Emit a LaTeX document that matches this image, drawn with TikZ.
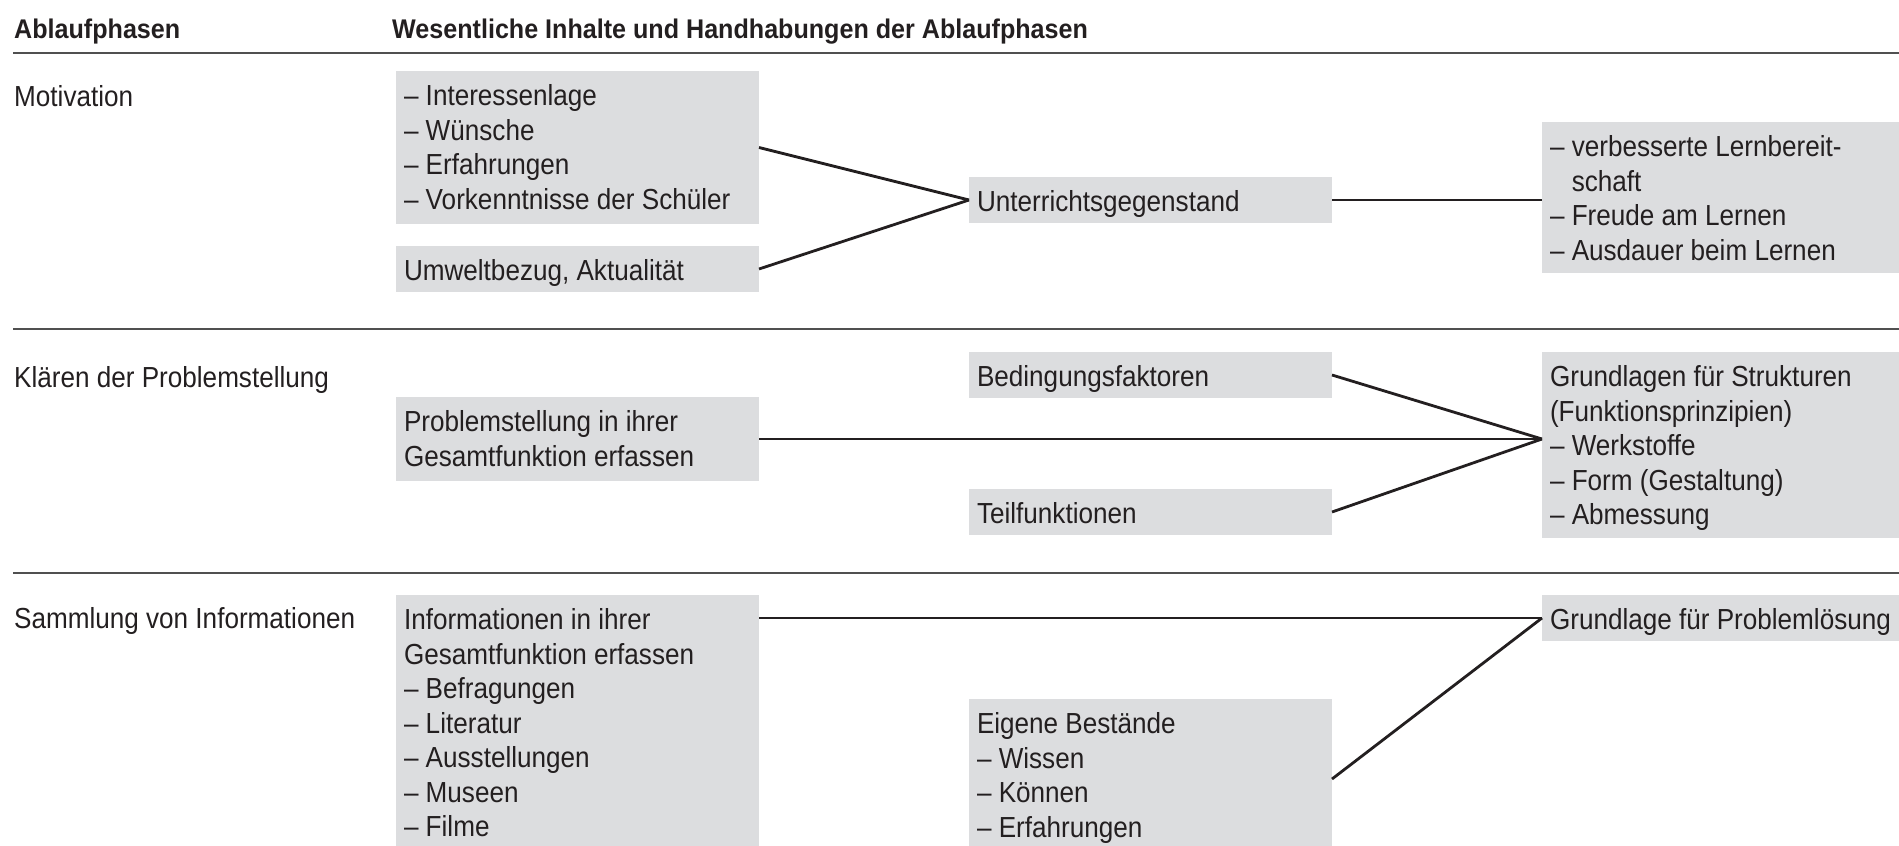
\documentclass[tikz,border=0pt]{standalone}
\usepackage{fontspec}
\setmainfont{Liberation Sans}[FakeStretch=0.9]
\newfontfamily\headfont{Liberation Sans}[FakeStretch=0.93]
\definecolor{boxgray}{HTML}{DCDDDF}
\definecolor{ink}{HTML}{231F20}
\definecolor{rulegray}{HTML}{505050}
\newcommand\boxtext[3]{\begin{minipage}[c][#2][t]{#1}\rule{0pt}{34.5pt}#3\end{minipage}}
\begin{document}
\begin{tikzpicture}[x=1pt,y=-1pt,
  font=\fontsize{29pt}{34.5pt}\selectfont, text=ink,
  box/.style={fill=boxgray, inner xsep=8pt, inner ysep=0pt, anchor=north west, outer sep=0pt},
  head/.style={font=\headfont\fontsize{27pt}{32pt}\selectfont\bfseries, anchor=base west, inner sep=0pt},
  phase/.style={anchor=base west, inner sep=0pt},
  conn/.style={draw=ink, line width=2.8pt},
  sep/.style={draw=rulegray, line width=1.6pt}]
\useasboundingbox (0,0) rectangle (1899,846);
\clip (0,0) rectangle (1899,846);

% headers
\node[head] (h1) at (14,38) {Ablaufphasen};
\node[head] (h2) at (392,38) {Wesentliche Inhalte und Handhabungen der Ablaufphasen};
\draw[sep] (13,53) -- (1899,53);
\draw[sep] (13,329) -- (1899,329);
\draw[sep] (13,573) -- (1899,573);

% phases
\node[phase] (p1) at (14,106) {Motivation};
\node[phase] (p2) at (14,387) {Klären der Problemstellung};
\node[phase] (p3) at (14,628) {Sammlung von Informationen};

% row 1
\node[box] (A) at (396,71) {\boxtext{347pt}{153pt}{– Interessenlage\\– Wünsche\\– Erfahrungen\\– Vorkenntnisse der Schüler}};
\node[box] (B) at (396,246) {\boxtext{347pt}{46pt}{Umweltbezug, Aktualität}};
\node[box] (C) at (969,177) {\boxtext{347pt}{46pt}{Unterrichtsgegenstand}};
\node[box] (D) at (1542,122) {\boxtext{384pt}{151pt}{– verbesserte Lernbereit-\\\hphantom{– }schaft\\– Freude am Lernen\\– Ausdauer beim Lernen}};

% row 2
\node[box] (E) at (396,397) {\boxtext{347pt}{84pt}{Problemstellung in ihrer\\Gesamtfunktion erfassen}};
\node[box] (F) at (969,352) {\boxtext{347pt}{46pt}{Bedingungsfaktoren}};
\node[box] (G) at (969,489) {\boxtext{347pt}{46pt}{Teilfunktionen}};
\node[box] (H) at (1542,352) {\boxtext{384pt}{186pt}{Grundlagen für Strukturen\\(Funktionsprinzipien)\\– Werkstoffe\\– Form (Gestaltung)\\– Abmessung}};

% row 3
\node[box] (I) at (396,595) {\boxtext{347pt}{260pt}{Informationen in ihrer\\Gesamtfunktion erfassen\\– Befragungen\\– Literatur\\– Ausstellungen\\– Museen\\– Filme}};
\node[box] (J) at (1542,595) {\boxtext{384pt}{46pt}{Grundlage für Problemlösung}};
\node[box] (K) at (969,699) {\boxtext{347pt}{160pt}{Eigene Bestände\\– Wissen\\– Können\\– Erfahrungen}};

% connectors
\draw[conn] (A.east) -- (C.west);
\draw[conn] (B.east) -- (C.west);
\draw[conn] (C.east) -- (C.east -| D.west);
\coordinate (hin) at (H.west |- E.east);
\draw[conn] (E.east) -- (hin);
\draw[conn] (F.east) -- (hin);
\draw[conn] (G.east) -- (hin);
\draw[conn] (I.east |- J.west) -- (J.west);
\draw[conn] (K.east) -- (J.west);
\end{tikzpicture}
\end{document}
